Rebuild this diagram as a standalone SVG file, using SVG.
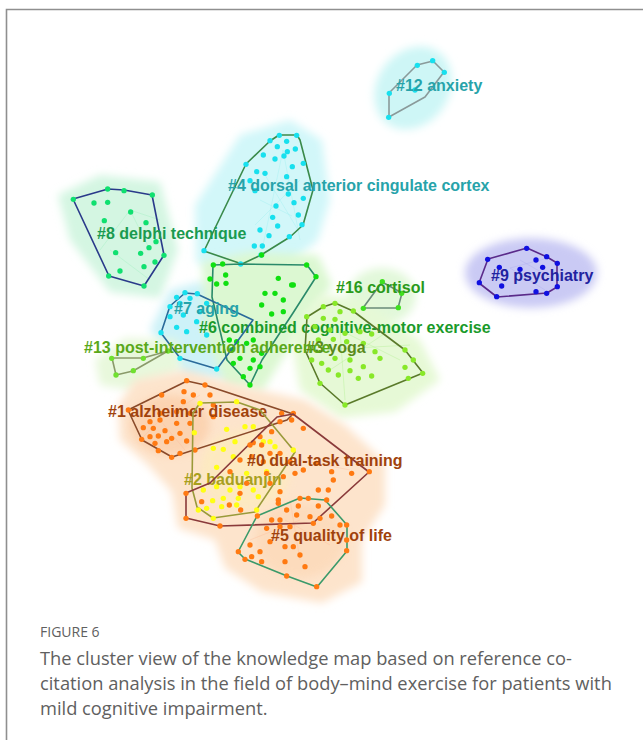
<svg xmlns="http://www.w3.org/2000/svg" width="643" height="740" viewBox="0 0 643 740">
<style>
.hull{fill:none;stroke-width:1.6;stroke-linejoin:round}
.halo{filter:url(#soft)}
.lbl{font-family:"Liberation Sans",Arial,sans-serif;font-weight:bold;font-size:16px}
.cap{font-family:"Open Sans","Liberation Sans",sans-serif;fill:#606060}
.link{stroke-width:1;fill:none;opacity:.35}
</style>
<defs>
<filter id="soft" x="-30%" y="-30%" width="160%" height="160%"><feGaussianBlur stdDeviation="4"/></filter>
</defs>
<rect x="0" y="0" width="643" height="740" fill="#fff"/>
<path d="M6.5 740V9.5H643" fill="none" stroke="#8f8f8f" stroke-width="1.6"/>

<g id="halos">
<ellipse class="halo" cx="413" cy="88" rx="36" ry="44" transform="rotate(35 413 88)" fill="#cef6f6"/>
<path class="halo" d="M195 205L240 135L290 120L322 140L330 200L318 240L282 270L232 280L196 262Z" fill="#d2f7f9"/>
<path class="halo" d="M58 195L100 175L160 182L178 250L160 298L110 292L70 240Z" fill="#d4f6e2"/>
<ellipse class="halo" cx="531" cy="273" rx="66" ry="35" fill="#cacaf4"/>
<path class="halo" d="M150 330L170 290L200 282L245 300L262 330L235 380L185 378Z" fill="#cdf2f8"/>
<path class="halo" d="M202 262L250 252L318 255L332 285L300 330L262 392L225 385L205 330Z" fill="#dcf8d2"/>
<ellipse class="halo" cx="382" cy="296" rx="34" ry="28" fill="#e2f8da"/>
<path class="halo" d="M290 330L320 295L360 298L420 340L440 380L395 412L340 418L300 390Z" fill="#e6f9d6"/>
<path class="halo" d="M95 360L125 338L178 340L180 372L130 390L100 385Z" fill="#e8f8dc"/>
<path class="halo" d="M118 405L135 380L185 370L250 388L305 400L345 425L385 462L385 505L362 540L362 582L322 603L262 592L225 568L215 540L178 528L172 492L148 465L120 440Z" fill="#fde4cc"/>
<ellipse class="halo" cx="170" cy="425" rx="40" ry="30" fill="#fbcca6" opacity=".7"/>
<ellipse class="halo" cx="245" cy="470" rx="45" ry="40" fill="#fdecbc" opacity=".7"/>
<ellipse class="halo" cx="300" cy="540" rx="45" ry="38" fill="#fcd6b2" opacity=".6"/>
</g>

<g id="links">
<path class="link" stroke="#9ee" d="M283 150L300 240M283 150L262 250M265 175L298 230M260 200L292 216M255 225L300 180"/>
<path class="link" stroke="#9eb" d="M130 210L150 250M130 210L100 250M130 210L160 220M110 250L150 280"/>
<path class="link" stroke="#aae" d="M510 268L545 290M510 268L548 258M520 260L555 280"/>
<path class="link" stroke="#ae8" d="M340 330L400 360M340 330L345 400M320 350L410 345M330 370L390 330"/>
<path class="link" stroke="#fb9" d="M160 420L200 395M160 420L140 440M160 420L185 450M290 500L300 560M285 520L330 545M250 540L300 520M300 460L350 470"/>
</g>

<g id="c12">
<polygon class="hull" stroke="#8a9a9a" points="389,93 417,65 433,61 444,72 425,97 389,117"/>
<g transform="translate(360 40) scale(.3333)" fill="#18e0ee"><circle cx="172" cy="76" r="8"/><circle cx="218" cy="62" r="8"/><circle cx="253" cy="97" r="8"/><circle cx="165" cy="150" r="8"/><circle cx="88" cy="160" r="8"/><circle cx="86" cy="232" r="8"/></g>
<text class="lbl" x="396" y="91" fill="#27a3aa">#12 anxiety</text>
</g>

<g id="c4">
<polygon class="hull" stroke="#3a8a4a" points="279,135 297,135 300,140 313,190 303,225 290,237 261,255 242,264 204,251 246,164 270,141"/>
<g transform="translate(190 120) scale(.3333)" fill="#18e0ee"><circle cx="268" cy="46" r="8"/><circle cx="320" cy="46" r="8"/><circle cx="240" cy="62" r="8"/><circle cx="262" cy="80" r="8"/><circle cx="290" cy="64" r="8"/><circle cx="292" cy="95" r="8"/><circle cx="316" cy="87" r="8"/><circle cx="220" cy="105" r="8"/><circle cx="255" cy="117" r="8"/><circle cx="282" cy="108" r="8"/><circle cx="168" cy="133" r="8"/><circle cx="200" cy="155" r="8"/><circle cx="225" cy="160" r="8"/><circle cx="307" cy="140" r="8"/><circle cx="340" cy="130" r="8"/><circle cx="290" cy="170" r="8"/><circle cx="180" cy="182" r="8"/><circle cx="195" cy="212" r="8"/><circle cx="258" cy="258" r="8"/><circle cx="325" cy="285" r="8"/><circle cx="340" cy="235" r="8"/><circle cx="312" cy="248" r="8"/><circle cx="295" cy="222" r="8"/><circle cx="248" cy="292" r="8"/><circle cx="263" cy="318" r="8"/><circle cx="210" cy="330" r="8"/><circle cx="237" cy="347" r="8"/><circle cx="298" cy="350" r="8"/><circle cx="336" cy="314" r="8"/><circle cx="193" cy="378" r="8"/><circle cx="217" cy="378" r="8"/><circle cx="213" cy="405" r="8"/><circle cx="152" cy="432" r="8"/><circle cx="42" cy="392" r="8"/></g>
<text class="lbl" x="228" y="191" fill="#27a3aa">#4 dorsal anterior cingulate cortex</text>
</g>

<g id="c8">
<polygon class="hull" stroke="#2a3a8a" points="73,199 108,189 124,190 152,195 164,255 144,286 109,276"/>
<g transform="translate(50 170) scale(.3333)" fill="#10e070"><circle cx="70" cy="88" r="8"/><circle cx="173" cy="57" r="8"/><circle cx="222" cy="62" r="8"/><circle cx="307" cy="75" r="8"/><circle cx="132" cy="99" r="8"/><circle cx="173" cy="97" r="8"/><circle cx="242" cy="126" r="8"/><circle cx="163" cy="152" r="8"/><circle cx="288" cy="158" r="8"/><circle cx="318" cy="215" r="8"/><circle cx="297" cy="233" r="8"/><circle cx="272" cy="250" r="8"/><circle cx="197" cy="248" r="8"/><circle cx="342" cy="256" r="8"/><circle cx="315" cy="276" r="8"/><circle cx="282" cy="290" r="8"/><circle cx="210" cy="303" r="8"/><circle cx="176" cy="318" r="8"/><circle cx="282" cy="348" r="8"/></g>
<text class="lbl" x="97" y="239" fill="#1a9a50">#8 delphi technique</text>
</g>

<g id="c9">
<polygon class="hull" stroke="#5a2a8a" points="488,259 527,248 547,257 557,263 557,287 547,293 497,297 479,283"/>
<g transform="translate(450 230) scale(.3333)" fill="#1010e0"><circle cx="113" cy="88" r="8"/><circle cx="230" cy="55" r="8"/><circle cx="290" cy="80" r="8"/><circle cx="258" cy="90" r="8"/><circle cx="322" cy="100" r="8"/><circle cx="148" cy="112" r="8"/><circle cx="88" cy="158" r="8"/><circle cx="155" cy="168" r="8"/><circle cx="210" cy="118" r="8"/><circle cx="322" cy="170" r="8"/><circle cx="290" cy="190" r="8"/><circle cx="258" cy="185" r="8"/><circle cx="140" cy="200" r="8"/><circle cx="278" cy="112" r="8"/></g>
<text class="lbl" x="491" y="281" fill="#2222a0">#9 psychiatry</text>
</g>

<g id="c6">
<polygon class="hull" stroke="#2a8a6a" points="213,265 241,264 307,265 316,277 293,313 262,360 250,385 227,360 212,297"/>
<g transform="translate(80 250) scale(.3333)" fill="#10e010"><circle cx="400" cy="45" r="8"/><circle cx="428" cy="42" r="8"/><circle cx="545" cy="15" r="8"/><circle cx="390" cy="87" r="8"/><circle cx="410" cy="102" r="8"/><circle cx="438" cy="100" r="8"/><circle cx="437" cy="75" r="8"/><circle cx="595" cy="85" r="8"/><circle cx="555" cy="130" r="8"/><circle cx="585" cy="130" r="8"/><circle cx="610" cy="150" r="8"/><circle cx="545" cy="165" r="8"/><circle cx="575" cy="192" r="8"/><circle cx="610" cy="185" r="8"/><circle cx="635" cy="105" r="8"/><circle cx="680" cy="45" r="8"/><circle cx="708" cy="80" r="8"/><circle cx="640" cy="105" r="8"/><circle cx="448" cy="270" r="8"/><circle cx="470" cy="275" r="8"/><circle cx="500" cy="280" r="8"/><circle cx="520" cy="270" r="8"/><circle cx="455" cy="300" r="8"/><circle cx="480" cy="325" r="8"/><circle cx="520" cy="330" r="8"/><circle cx="545" cy="310" r="8"/><circle cx="460" cy="340" r="8"/><circle cx="510" cy="355" r="8"/><circle cx="490" cy="380" r="8"/><circle cx="540" cy="350" r="8"/><circle cx="510" cy="405" r="8"/></g>
<text class="lbl" x="199" y="333" fill="#1a9a2a">#6 combined cognitive-motor exercise</text>
</g>

<g id="c7">
<polygon class="hull" stroke="#2a6a9a" points="170,306 185,293 197,294 253,320 217,369 180,358 161,333"/>
<g transform="translate(80 250) scale(.3333)" fill="#18e0ee"><circle cx="315" cy="128" r="8"/><circle cx="352" cy="131" r="8"/><circle cx="290" cy="142" r="8"/><circle cx="330" cy="145" r="8"/><circle cx="270" cy="170" r="8"/><circle cx="300" cy="160" r="8"/><circle cx="380" cy="160" r="8"/><circle cx="360" cy="185" r="8"/><circle cx="310" cy="195" r="8"/><circle cx="270" cy="200" r="8"/><circle cx="290" cy="232" r="8"/><circle cx="320" cy="245" r="8"/><circle cx="350" cy="215" r="8"/><circle cx="243" cy="248" r="8"/><circle cx="380" cy="255" r="8"/><circle cx="300" cy="325" r="8"/><circle cx="410" cy="357" r="8"/></g>
<text class="lbl" x="174" y="314" fill="#27a3aa">#7 aging</text>
</g>

<g id="c16">
<polygon class="hull" stroke="#6a8a7a" points="363,308 382,282 402,293 398,308"/>
<g transform="translate(280 250) scale(.3333)" fill="#40e020"><circle cx="250" cy="175" r="8"/><circle cx="307" cy="95" r="8"/><circle cx="355" cy="173" r="8"/><circle cx="365" cy="130" r="8"/></g>
<text class="lbl" x="336" y="293" fill="#2a9a1a">#16 cortisol</text>
</g>

<g id="c3">
<polygon class="hull" stroke="#5a7a2a" points="307,317 323,307 335,303 353,311 405,350 423,373 345,405 320,383 305,350"/>
<g transform="translate(280 250) scale(.3333)" fill="#88e828"><circle cx="80" cy="200" r="8"/><circle cx="130" cy="170" r="8"/><circle cx="165" cy="160" r="8"/><circle cx="180" cy="185" r="8"/><circle cx="220" cy="183" r="8"/><circle cx="130" cy="205" r="8"/><circle cx="165" cy="208" r="8"/><circle cx="105" cy="230" r="8"/><circle cx="150" cy="240" r="8"/><circle cx="195" cy="250" r="8"/><circle cx="240" cy="245" r="8"/><circle cx="275" cy="252" r="8"/><circle cx="115" cy="270" r="8"/><circle cx="160" cy="268" r="8"/><circle cx="200" cy="275" r="8"/><circle cx="250" cy="280" r="8"/><circle cx="285" cy="305" r="8"/><circle cx="95" cy="330" r="8"/><circle cx="125" cy="340" r="8"/><circle cx="165" cy="325" r="8"/><circle cx="210" cy="330" r="8"/><circle cx="250" cy="350" r="8"/><circle cx="300" cy="325" r="8"/><circle cx="375" cy="300" r="8"/><circle cx="400" cy="330" r="8"/><circle cx="375" cy="352" r="8"/><circle cx="145" cy="360" r="8"/><circle cx="175" cy="375" r="8"/><circle cx="210" cy="362" r="8"/><circle cx="235" cy="385" r="8"/><circle cx="275" cy="378" r="8"/><circle cx="120" cy="400" r="8"/><circle cx="195" cy="465" r="8"/><circle cx="428" cy="370" r="8"/><circle cx="385" cy="385" r="8"/></g>
<text class="lbl" x="306" y="353" fill="#5a8a1a">#3 yoga</text>
</g>

<g id="c13">
<polygon class="hull" stroke="#8a9a6a" points="112,358 116,375 133,371 168,351 143,358"/>
<g transform="translate(80 250) scale(.3333)" fill="#70e030"><circle cx="95" cy="325" r="8"/><circle cx="108" cy="375" r="8"/><circle cx="160" cy="362" r="8"/><circle cx="190" cy="325" r="8"/><circle cx="264" cy="303" r="8"/></g>
<text class="lbl" x="84" y="353" fill="#5aa81a">#13 post-intervention adherence</text>
</g>

<g id="c1">
<polygon class="hull" stroke="#8a4a2a" points="187,381 205,385 293,414 287,420 172,457 142,440 128,410"/>
<g transform="translate(100 370) scale(.3333)" fill="#ff7a12"><circle cx="260" cy="32" r="8"/><circle cx="315" cy="45" r="8"/><circle cx="185" cy="75" r="8"/><circle cx="252" cy="65" r="8"/><circle cx="280" cy="75" r="8"/><circle cx="330" cy="75" r="8"/><circle cx="250" cy="95" r="8"/><circle cx="340" cy="105" r="8"/><circle cx="85" cy="120" r="8"/><circle cx="180" cy="130" r="8"/><circle cx="230" cy="125" r="8"/><circle cx="270" cy="130" r="8"/><circle cx="340" cy="140" r="8"/><circle cx="150" cy="155" r="8"/><circle cx="180" cy="150" r="8"/><circle cx="130" cy="173" r="8"/><circle cx="160" cy="175" r="8"/><circle cx="195" cy="182" r="8"/><circle cx="230" cy="160" r="8"/><circle cx="270" cy="160" r="8"/><circle cx="150" cy="200" r="8"/><circle cx="175" cy="198" r="8"/><circle cx="215" cy="205" r="8"/><circle cx="240" cy="190" r="8"/><circle cx="125" cy="208" r="8"/><circle cx="165" cy="220" r="8"/><circle cx="200" cy="215" r="8"/><circle cx="260" cy="213" r="8"/><circle cx="175" cy="242" r="8"/><circle cx="215" cy="262" r="8"/><circle cx="240" cy="250" r="8"/><circle cx="285" cy="240" r="8"/><circle cx="545" cy="130" r="8"/><circle cx="580" cy="130" r="8"/><circle cx="575" cy="150" r="8"/><circle cx="540" cy="155" r="8"/><circle cx="610" cy="175" r="8"/><circle cx="515" cy="185" r="8"/><circle cx="480" cy="200" r="8"/><circle cx="460" cy="218" r="8"/></g>
<text class="lbl" x="108" y="417" fill="#a0420c">#1 alzheimer disease</text>
</g>

<g id="c2">
<polygon class="hull" stroke="#9a9a3a" points="193,413 200,403 237,402 260,410 295,452 255,512 213,518 197,507 192,488"/>
<g transform="translate(100 370) scale(.3333)" fill="#ffff14"><circle cx="300" cy="100" r="8"/><circle cx="410" cy="95" r="8"/><circle cx="283" cy="188" r="8"/><circle cx="380" cy="178" r="8"/><circle cx="405" cy="215" r="8"/><circle cx="370" cy="238" r="8"/><circle cx="435" cy="170" r="8"/><circle cx="460" cy="170" r="8"/><circle cx="490" cy="215" r="8"/><circle cx="510" cy="215" r="8"/><circle cx="525" cy="230" r="8"/><circle cx="580" cy="240" r="8"/><circle cx="350" cy="292" r="8"/><circle cx="340" cy="235" r="8"/><circle cx="400" cy="260" r="8"/><circle cx="440" cy="310" r="8"/><circle cx="500" cy="305" r="8"/><circle cx="350" cy="350" r="8"/><circle cx="310" cy="360" r="8"/><circle cx="390" cy="360" r="8"/><circle cx="420" cy="350" r="8"/><circle cx="370" cy="385" r="8"/><circle cx="415" cy="385" r="8"/><circle cx="460" cy="360" r="8"/><circle cx="475" cy="380" r="8"/><circle cx="338" cy="392" r="8"/><circle cx="365" cy="410" r="8"/><circle cx="295" cy="420" r="8"/><circle cx="320" cy="415" r="8"/><circle cx="340" cy="445" r="8"/><circle cx="470" cy="420" r="8"/><circle cx="410" cy="405" r="8"/></g>
<text class="lbl" x="184" y="485" fill="#a8a01e">#2 baduanjin</text>
</g>

<g id="c0">
<polygon class="hull" stroke="#8a3a3a" points="277,417 293,414 369,472 313,523 220,526 186,518 186,493 210,483"/>
<g transform="translate(170 430) scale(.3333)" fill="#ff7a12"><circle cx="240" cy="45" r="8"/><circle cx="275" cy="45" r="8"/><circle cx="210" cy="90" r="8"/><circle cx="245" cy="80" r="8"/><circle cx="280" cy="95" r="8"/><circle cx="300" cy="70" r="8"/><circle cx="330" cy="70" r="8"/><circle cx="360" cy="95" r="8"/><circle cx="375" cy="130" r="8"/><circle cx="400" cy="120" r="8"/><circle cx="340" cy="140" r="8"/><circle cx="440" cy="100" r="8"/><circle cx="485" cy="125" r="8"/><circle cx="545" cy="130" r="8"/><circle cx="598" cy="125" r="8"/><circle cx="490" cy="150" r="8"/><circle cx="290" cy="130" r="8"/><circle cx="180" cy="125" r="8"/><circle cx="210" cy="190" r="8"/><circle cx="230" cy="160" r="8"/><circle cx="95" cy="215" r="8"/><circle cx="178" cy="225" r="8"/><circle cx="212" cy="240" r="8"/><circle cx="150" cy="288" r="8"/><circle cx="300" cy="160" r="8"/><circle cx="330" cy="185" r="8"/><circle cx="325" cy="210" r="8"/><circle cx="445" cy="180" r="8"/><circle cx="475" cy="180" r="8"/><circle cx="48" cy="190" r="8"/><circle cx="48" cy="265" r="8"/><circle cx="430" cy="280" r="8"/></g>
<text class="lbl" x="247" y="466" fill="#a0420c">#0 dual-task training</text>
</g>

<g id="c5">
<polygon class="hull" stroke="#3a9a6a" points="300,498 325,500 347,525 347,551 317,587 287,576 245,559 238,552 257,516"/>
<g transform="translate(170 430) scale(.3333)" fill="#ff7a12"><circle cx="390" cy="205" r="8"/><circle cx="415" cy="205" r="8"/><circle cx="325" cy="220" r="8"/><circle cx="385" cy="228" r="8"/><circle cx="350" cy="240" r="8"/><circle cx="445" cy="228" r="8"/><circle cx="470" cy="210" r="8"/><circle cx="305" cy="270" r="8"/><circle cx="330" cy="270" r="8"/><circle cx="380" cy="255" r="8"/><circle cx="420" cy="260" r="8"/><circle cx="450" cy="265" r="8"/><circle cx="485" cy="258" r="8"/><circle cx="510" cy="285" r="8"/><circle cx="530" cy="285" r="8"/><circle cx="262" cy="258" r="8"/><circle cx="290" cy="295" r="8"/><circle cx="330" cy="290" r="8"/><circle cx="360" cy="290" r="8"/><circle cx="300" cy="335" r="8"/><circle cx="345" cy="350" r="8"/><circle cx="370" cy="350" r="8"/><circle cx="390" cy="375" r="8"/><circle cx="240" cy="345" r="8"/><circle cx="205" cy="365" r="8"/><circle cx="245" cy="380" r="8"/><circle cx="270" cy="365" r="8"/><circle cx="275" cy="395" r="8"/><circle cx="225" cy="388" r="8"/><circle cx="345" cy="395" r="8"/><circle cx="405" cy="410" r="8"/><circle cx="350" cy="438" r="8"/><circle cx="440" cy="470" r="8"/><circle cx="530" cy="362" r="8"/><circle cx="530" cy="330" r="8"/></g>
<text class="lbl" x="271" y="541" fill="#a0420c">#5 quality of life</text>
</g>

<g id="caption">
<text class="cap" x="40" y="637" font-size="14" fill="#7a7a7a">FIGURE 6</text>
<text class="cap" x="40" y="665" font-size="18.3">The cluster view of the knowledge map based on reference co-</text>
<text class="cap" x="40" y="690" font-size="18.3">citation analysis in the field of body–mind exercise for patients with</text>
<text class="cap" x="40" y="715" font-size="18.3">mild cognitive impairment.</text>
</g>
</svg>
